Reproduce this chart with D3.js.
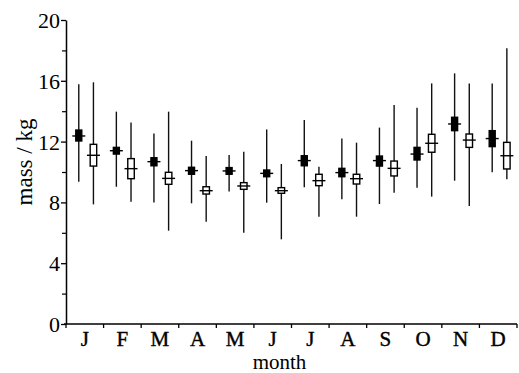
<!DOCTYPE html>
<html>
<head>
<meta charset="utf-8">
<script src="https://cdn.jsdelivr.net/npm/d3@7"></script>
<style>
  body { margin: 0; background: #fff; }
  svg text { font-family: "Liberation Serif", "DejaVu Serif", Times, serif !important; fill: #000; }
</style>
</head>
<body>
<div id="chart"></div>
<script>
// month labels
var months = ["J", "F", "M", "A", "M", "J", "J", "A", "S", "O", "N", "D"];

// filled series: [whisker low, box low, median, box high, whisker high]
var filledLow    = [9.36, 9.03, 8.0, 7.94, 8.71, 7.98, 8.99, 8.2, 7.89, 8.97, 9.43, 9.98];
var filledQ1     = [12.04, 11.18, 10.41, 9.85, 9.85, 9.69, 10.41, 9.69, 10.39, 10.79, 12.72, 11.67];
var filledMedian = [12.37, 11.4, 10.68, 10.09, 10.07, 9.91, 10.75, 9.96, 10.75, 11.18, 13.16, 12.2];
var filledQ3     = [12.76, 11.62, 10.94, 10.31, 10.29, 10.13, 11.07, 10.24, 11.05, 11.62, 13.6, 12.72];
var filledHigh   = [15.77, 13.97, 12.54, 12.06, 11.12, 12.8, 13.42, 12.21, 12.92, 14.23, 16.49, 15.83];

// open series
var openLow    = [7.87, 8.05, 6.14, 6.73, 6.0, 5.57, 7.06, 7.06, 8.64, 8.38, 7.76, 9.52];
var openQ1     = [10.39, 9.56, 9.19, 8.55, 8.86, 8.6, 9.1, 9.21, 9.74, 11.3, 11.62, 10.2];
var openMedian = [11.1, 10.22, 9.58, 8.77, 9.08, 8.77, 9.43, 9.56, 10.24, 11.89, 12.1, 11.07];
var openQ3     = [11.82, 10.88, 9.98, 9.03, 9.3, 8.97, 9.85, 9.85, 10.72, 12.48, 12.5, 11.95];
var openHigh   = [15.9, 13.25, 13.97, 11.05, 11.34, 10.53, 10.35, 11.93, 14.41, 15.83, 15.83, 18.14];

var yMajor = [0, 4, 8, 12, 16, 20];
var yMinor = [2, 6, 10, 14, 18];

var serif = "Liberation Serif, DejaVu Serif, serif";

var svgWidth = 519;
var svgHeight = 373;
var margin = { top: 20, right: 2, bottom: 49, left: 66 };
var width = svgWidth - margin.left - margin.right;
var height = svgHeight - margin.top - margin.bottom;

var svg = d3.select("#chart")
  .append("svg")
  .attr("width", svgWidth)
  .attr("height", svgHeight)
  .attr("font-family", serif);

var chartGroup = svg.append("g")
  .attr("transform", `translate(${margin.left}, ${margin.top})`);

var idx = d3.range(months.length);

var xBand = d3.scaleBand()
  .domain(idx)
  .range([0, width])
  .padding(0);

var yScale = d3.scaleLinear()
  .domain([0, 20])
  .range([height, 0]);

// y axis, major then minor ticks
var leftAxis = d3.axisLeft(yScale)
  .tickValues(yMajor)
  .tickSize(5)
  .tickPadding(1)
  .tickSizeOuter(0);

var yAxis = chartGroup.append("g").call(leftAxis)
  .attr("font-family", serif);
yAxis.select(".domain").attr("stroke-width", 1.5);
yAxis.selectAll(".tick line").attr("stroke-width", 1.3);
yAxis.selectAll("text")
  .attr("font-family", serif)
  .attr("font-size", "22px")
  .attr("dy", "0.34em");

var minorAxis = chartGroup.append("g")
  .call(d3.axisLeft(yScale).tickValues(yMinor).tickSize(4).tickFormat(""));
minorAxis.select(".domain").remove();
minorAxis.selectAll(".tick line").attr("stroke-width", 1.2);

// x axis: ticks sit on the month boundaries
var boundaries = d3.range(months.length + 1).map(i => i * xBand.bandwidth());
var xAxisG = chartGroup.append("g")
  .attr("transform", `translate(0, ${height})`);
xAxisG.append("line")
  .attr("x1", -2).attr("x2", width)
  .attr("stroke", "#000").attr("stroke-width", 1.5);
xAxisG.selectAll(".xtick")
  .data(boundaries)
  .enter()
  .append("line")
  .attr("class", "xtick")
  .attr("x1", d => d).attr("x2", d => d)
  .attr("y1", 0).attr("y2", 4)
  .attr("stroke", "#000").attr("stroke-width", 1.3);
xAxisG.selectAll(".mlabel")
  .data(idx)
  .enter()
  .append("text")
  .attr("class", "mlabel")
  .attr("x", d => xBand(d) + xBand.bandwidth() / 2)
  .attr("y", 22)
  .attr("text-anchor", "middle")
  .attr("font-size", "21px")
  .attr("stroke", "#000")
  .attr("stroke-width", 0.4)
  .text(d => months[d]);

// axis titles
chartGroup.append("text")
  .attr("x", width / 2 - 12)
  .attr("y", height + 45)
  .attr("text-anchor", "middle")
  .attr("font-size", "21px")
  .text("month");

svg.append("text")
  .attr("transform", "rotate(-90)")
  .attr("x", -162)
  .attr("y", 32)
  .attr("text-anchor", "middle")
  .attr("font-size", "23px")
  .text("mass / kg");

// box plots
function drawSeries(offset, fill, low, q1, med, q3, high, boxW) {
  var g = chartGroup.append("g");
  var cx = i => xBand(i) + xBand.bandwidth() * offset;
  var items = g.selectAll("g").data(idx).enter().append("g");

  items.append("line")
    .attr("x1", cx).attr("x2", cx)
    .attr("y1", i => yScale(low[i]))
    .attr("y2", i => yScale(high[i]))
    .attr("stroke", "#111").attr("stroke-width", 1.4);

  items.append("rect")
    .attr("x", i => cx(i) - boxW / 2)
    .attr("width", boxW)
    .attr("y", i => yScale(q3[i]))
    .attr("height", i => yScale(q1[i]) - yScale(q3[i]))
    .attr("fill", fill)
    .attr("stroke", "#000").attr("stroke-width", 1.4);

  items.append("line")
    .attr("x1", i => cx(i) - 6.5).attr("x2", i => cx(i) + 6.5)
    .attr("y1", i => yScale(med[i]))
    .attr("y2", i => yScale(med[i]))
    .attr("stroke", "#000").attr("stroke-width", 1.4);
}

drawSeries(0.34, "#000", filledLow, filledQ1, filledMedian, filledQ3, filledHigh, 6);
drawSeries(0.73, "#fff", openLow, openQ1, openMedian, openQ3, openHigh, 6.5);
</script>
</body>
</html>
